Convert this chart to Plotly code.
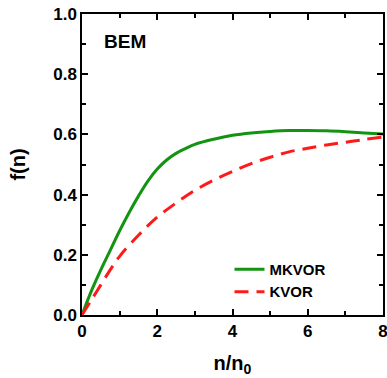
import plotly.graph_objects as go

n_mkvor = [0, 0.25, 0.5, 0.75, 1.0, 1.25, 1.5, 1.75, 2.0, 2.25, 2.5, 2.75, 3.0, 3.5, 4.0, 4.5, 5.0, 5.5, 6.0, 6.5, 7.0, 7.5, 8.0]
f_mkvor = [0, 0.08, 0.15, 0.215, 0.28, 0.34, 0.395, 0.445, 0.485, 0.515, 0.537, 0.553, 0.567, 0.584, 0.597, 0.605, 0.61, 0.613, 0.613, 0.612, 0.609, 0.605, 0.601]

n_kvor = [0, 0.25, 0.5, 0.75, 1.0, 1.5, 2.0, 2.5, 3.0, 3.5, 4.0, 4.5, 5.0, 5.5, 6.0, 6.5, 7.0, 7.5, 8.0]
f_kvor = [0, 0.05, 0.1, 0.15, 0.195, 0.265, 0.325, 0.372, 0.414, 0.448, 0.477, 0.503, 0.524, 0.542, 0.554, 0.565, 0.574, 0.583, 0.591]

FONT = "Liberation Sans, Arial"

fig = go.Figure()
fig.add_trace(go.Scatter(x=n_mkvor, y=f_mkvor, mode="lines", name="MKVOR",
                         line=dict(color="#129412", width=3, shape="spline")))
fig.add_trace(go.Scatter(x=n_kvor, y=f_kvor, mode="lines", name="KVOR",
                         line=dict(color="#ff1a1a", width=3, dash="14px,8px", shape="spline")))

axis_common = dict(showline=True, linecolor="black", linewidth=1.5, mirror="ticks",
                   ticks="inside", ticklen=6, tickwidth=1.5, tickcolor="black",
                   showgrid=False, zeroline=False, automargin=False,
                   ticklabeloverflow="allow",
                   tickfont=dict(family=FONT, size=17, color="black", weight="bold"),
                   minor=dict(ticks="inside", ticklen=4, tickwidth=1.5, tickcolor="black", showgrid=False))

fig.update_xaxes(range=[0, 8], dtick=2, **axis_common,
                 title=dict(text="n/n<sub>0</sub>", font=dict(family=FONT, size=20, color="black", weight="bold"), standoff=16))
fig.update_yaxes(range=[0, 1.0], dtick=0.2, tickformat=".1f", **axis_common,
                 title=dict(text="f(n)", font=dict(family=FONT, size=20, color="black", weight="bold"), standoff=22))
fig.update_xaxes(minor_dtick=1)
fig.update_yaxes(minor_dtick=0.1)

fig.add_annotation(text="BEM", x=0.065, y=0.91, xref="paper", yref="paper", xanchor="left", yanchor="middle",
                   showarrow=False, font=dict(family=FONT, size=19, color="black", weight="bold"))

fig.update_layout(width=387, height=378, margin=dict(l=82, r=4, t=14, b=63),
                  plot_bgcolor="white", paper_bgcolor="white",
                  legend=dict(x=0.49, y=0.115, xanchor="left", yanchor="middle",
                              bgcolor="rgba(0,0,0,0)", tracegroupgap=0,
                              font=dict(family=FONT, size=15, color="black", weight="bold")),
                  showlegend=True)

fig.write_html("out.html")
